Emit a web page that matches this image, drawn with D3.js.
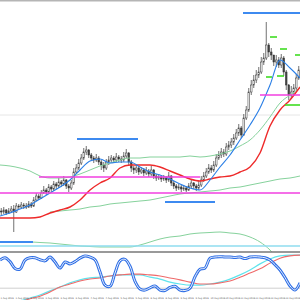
<!DOCTYPE html>
<html><head><meta charset="utf-8">
<script src="https://cdn.jsdelivr.net/npm/d3@7"></script>
<style>html,body{margin:0;padding:0;background:#fff;}svg{display:block;}</style>
</head><body>
<svg id="c" width="300" height="300"></svg>
<script>
// ---------- DATA ----------
const firstOpen = 1320.5;
const closes = [
1320,1321,1319.5,1320.5,1321.5,1320,1323,1322.5,1323.5,1323,
1322.5,1324,1323,1326,1328,1327,1329.5,1331,1330,1332.5,
1331.5,1334,1333,1335,1334,1336,1333,1332,1334.5,1340,
1342,1344.5,1347,1350,1351,1348.5,1347,1346,1347,1345,
1343.5,1342,1345,1346,1347,1346,1347.5,1346.5,1346,1348,
1349.5,1345,1342,1341,1342,1340,1341,1339.5,1340.5,1339,
1341,1338,1337,1337.5,1336.5,1337,1336,1338,1334.5,1333,
1332,1332.5,1331.5,1332,1331,1333,1334.5,1333,1332,1333.5,
1336,1338,1340,1342,1341,1343.5,1347,1348.5,1350,1349,
1352.5,1353.5,1355,1357,1359.5,1362,1358.5,1367,1371,1380,
1383.5,1386,1388.5,1390,1395,1397,1403.5,1400,1398.5,1395,
1396,1393.5,1397,1390,1383.5,1378.5,1380,1382,1387,1391];
const highs = [
1322,1322.5,1321.5,1322,1323,1323.5,1324.5,1324,1325,1324.5,
1324.5,1325.5,1325,1327.5,1329.5,1329,1331,1333,1332,1334,
1333.5,1335.5,1335,1337,1336,1338,1336.5,1334,1336,1342,
1344,1346.5,1349,1352,1353,1351.5,1349.5,1348,1349,1348,
1346,1345,1346.5,1348,1348.5,1348,1349.5,1348.5,1348,1350,
1351.5,1350,1346,1343,1343.5,1343,1342.5,1342,1342.5,1341.5,
1343,1341.5,1339,1339,1338.5,1338.5,1338,1340,1338.5,1335.5,
1334,1334,1333.5,1333.5,1333,1334.5,1336,1335,1334,1335.5,
1338,1340,1342,1344,1343.5,1345.5,1349,1350.5,1352,1351.5,
1354.5,1355.5,1357,1359,1361.5,1364,1363,1369,1373,1382,
1386,1388.5,1391,1392.5,1397.5,1399.5,1415,1404.5,1402,1398.5,
1398.5,1397.5,1399,1398,1391,1384,1383,1384,1389,1393];
const lows = [
1318.5,1319,1318.5,1319,1319.5,1310,1319.5,1321.5,1322,1321.5,
1321.5,1322,1322,1322.5,1325.5,1326,1326.5,1329,1328.5,1329,
1330,1330.5,1331.5,1332,1332.5,1333,1331.5,1330,1331,1333.5,
1339,1341,1343.5,1346,1348.5,1347,1345.5,1344.5,1345,1343.5,
1341,1340,1341,1343.5,1345,1344.5,1345,1345,1344.5,1345,
1347,1343,1340,1339,1339.5,1338.5,1339,1338,1338.5,1337.5,
1338,1336.5,1335.5,1336,1335,1335.5,1334.5,1335,1333,1331.5,
1330.5,1331,1330,1330.5,1330,1330.5,1332,1331.5,1330.5,1331,
1332.5,1335,1337,1339,1339.5,1340,1342.5,1346,1347,1347.5,
1348,1351,1352,1353.5,1356,1358,1357,1358,1366,1370,
1378.5,1382,1384.5,1387,1389,1393.5,1396,1397.5,1396,1393,
1392.5,1392,1392,1388,1381,1376,1376.5,1378,1381,1386];

// moving averages, read every 4 bars
const maBlue = [1318,1319.5,1321.5,1323.5,1326.5,1329.5,1332.5,1336,1341,1345.5,1346.5,1344.5,1345,1345,1342.5,1340,1338.5,1336.5,1334,1332,1331,1336,1342.5,1348.5,1356,1363.5,1372,1383.5,1396,1392,1387];
const maRed = [1317,1317,1317,1317,1317.5,1319.5,1321,1322.5,1326,1331,1334.5,1337,1342,1343.5,1343.5,1343.5,1342.5,1340.5,1338.5,1336.5,1335.5,1336.5,1337.5,1338,1340,1342.5,1349.5,1363,1371,1376,1382.5];
const maGreen = [1343.5,1343,1342,1340.5,1338,1337,1337,1337.5,1339,1341,1343,1344.5,1346,1347,1347,1347.5,1347.5,1347.5,1347.5,1348,1347.5,1348,1349,1350.5,1353,1356,1361,1367.5,1374.5,1378.5,1382];
const maGreenSlow = [null,null,null,null,null,1320,1320.5,1321,1321.5,1322.5,1323,1324,1324.5,1325,1325.5,1326,1327,1328,1329,1329.5,1330,1330.5,1331,1332,1332.5,1333.5,1334.5,1335.5,1336.5,1337,1338];
const maGreenLow = [1305,1305,1305,1305,1304.75,1304.5,1304,1303.5,1303,1302.75,1302.5,1302.5,1302.5,1302.5,1303.5,1305,1306.5,1307.5,1308,1309,1309.5,1309.75,1310,1309.5,1309,1307.5,1305,1301,1295,1290,1286];

// horizontal levels: price, from bar, to bar
const levelsBlue = [[1419.5,96.7,119.5],[1356.5,30.3,54.7],[1325,65.5,85.5],[1305,-0.5,12.7]];
const levelsMagenta = [[1329.5,-0.5,119.5],[1337.5,15.1,79.5],[1378.5,103.5,119.5]];
const levelsLime = [[1407.5,107.5,110.3],[1401.5,111.5,114.3],[1398.5,117.5,119.5],[1387.5,105.9,108.3],[1388,110.3,113.1],[1373.5,113.5,119.5]];
const levelCyan = [[1303,-0.5,119.5]];
const gridLevels = [1368.5];

// oscillator, main line every 2 bars, signal lines every 4 bars
const stochMain = [84,90,80,62,60,84,90,90,85,82,92,79,63,79,74,80,89,95,92,85,53,18,15,50,82,86,68,28,8,5,11,16,5,4,12,15,5,4,10,40,60,63,89,92,93,92,92,91,92,88,92,93,92,90,84,72,58,38,16,5,24];
const stochRed = [-42,-37,-26,-18,-11,0,13,21,29,34,37,42,45,47,47,45,42,37,32,26,21,21,24,29,39,50,61,76,89,95,97];
const stochCyan = [-39,-34,-24,-16,-8,3,13,24,32,37,39,42,45,45,45,39,34,26,21,18,18,21,26,34,45,58,74,87,95,97,97];
const stochLevel = 10;

const timeLabels = ["1 Aug 2016","1 Aug 2016","2 Aug 2016","2 Aug 2016","3 Aug 2016","3 Aug 2016","4 Aug 2016","4 Aug 2016","5 Aug 2016","5 Aug 2016","8 Aug 2016","8 Aug 2016","9 Aug 2016","9 Aug 2016","10 Aug 2016","10 Aug 2016","11 Aug 2016","11 Aug 2016","12 Aug 2016","12 Aug 2016"];

// ---------- DRAW ----------
const svg = d3.select("#c");
const W = 300;
const x = d3.scaleLinear().domain([-0.5,119.5]).range([0,W]);
const y = d3.scaleLinear().domain([1426,1300]).range([0,252]);
const ys = d3.scaleLinear().domain([0,100]).range([292,254]);

const maIdx = d3.range(-0.5,120,4);
const stIdx = d3.range(-0.5,120,2);

const defs = svg.append("defs");
defs.append("clipPath").attr("id","mainClip").append("rect").attr("x",0).attr("y",0).attr("width",W).attr("height",252);
defs.append("clipPath").attr("id","subClip").append("rect").attr("x",0).attr("y",252.5).attr("width",W).attr("height",47.5);

svg.append("rect").attr("width",W).attr("height",300).attr("fill","#ffffff");

const main = svg.append("g").attr("clip-path","url(#mainClip)");

main.selectAll(".grid").data(gridLevels).join("line")
  .attr("x1",0).attr("x2",W).attr("y1",d=>y(d)).attr("y2",d=>y(d))
  .attr("stroke","#e6e6e6").attr("stroke-width",1);

// candles
const bars = closes.map((c,i)=>({i, o: i===0?firstOpen:closes[i-1], c, h:highs[i], l:lows[i]}));
const cg = main.append("g");
cg.selectAll(".wick").data(bars).join("line")
  .attr("x1",d=>x(d.i)).attr("x2",d=>x(d.i))
  .attr("y1",d=>y(d.h)).attr("y2",d=>y(d.l))
  .attr("stroke","#333").attr("stroke-width",0.7);
cg.selectAll(".body").data(bars).join("rect")
  .attr("x",d=>x(d.i)-0.8).attr("width",1.6)
  .attr("y",d=>y(Math.max(d.o,d.c)))
  .attr("height",d=>Math.max(0.6,Math.abs(y(d.o)-y(d.c))))
  .attr("fill",d=>d.c>=d.o?"#ffffff":"#444")
  .attr("stroke","#333").attr("stroke-width",0.5);

// moving averages
const maLine = d3.line().defined(d=>d[1]!=null).x(d=>x(d[0])).y(d=>y(d[1])).curve(d3.curveMonotoneX);
function drawMA(vals,color,w){
  main.append("path").datum(maIdx.map((t,k)=>[t,vals[k]]))
    .attr("d",maLine).attr("fill","none").attr("stroke",color).attr("stroke-width",w);
}
drawMA(maGreenSlow,"#86d29c",1);
drawMA(maGreen,"#86d29c",1);
drawMA(maGreenLow,"#86d29c",1);
drawMA(maRed,"#ee2a2a",1.4);
drawMA(maBlue,"#2b7fe6",1.1);

function drawLevels(arr,color,w){
  main.append("g").selectAll("line").data(arr).join("line")
    .attr("x1",d=>x(d[1])).attr("x2",d=>x(d[2]))
    .attr("y1",d=>y(d[0])).attr("y2",d=>y(d[0]))
    .attr("stroke",color).attr("stroke-width",w);
}
drawLevels(levelCyan,"#8fdcef",1.5);
drawLevels(levelsMagenta,"#f23fe0",1.3);
drawLevels(levelsBlue,"#3d8af0",2);
drawLevels(levelsLime,"#3fdc22",1.6);

// top border
svg.append("line").attr("x1",0).attr("x2",W).attr("y1",0.8).attr("y2",0.8).attr("stroke","#b5b5b5").attr("stroke-width",1.6);

// sub panel
svg.append("line").attr("x1",0).attr("x2",W).attr("y1",252).attr("y2",252).attr("stroke","#777").attr("stroke-width",1.4);
const sub = svg.append("g").attr("clip-path","url(#subClip)");
sub.append("line").attr("x1",0).attr("x2",W).attr("y1",ys(stochLevel)).attr("y2",ys(stochLevel))
  .attr("stroke","#cfcfcf").attr("stroke-width",1);

const sigLine = d3.line().x(d=>x(d[0])).y(d=>ys(d[1])).curve(d3.curveMonotoneX);
sub.append("path").datum(maIdx.map((t,k)=>[t,stochCyan[k]])).attr("d",sigLine)
  .attr("fill","none").attr("stroke","#5fe3ec").attr("stroke-width",1.2);
sub.append("path").datum(maIdx.map((t,k)=>[t,stochRed[k]])).attr("d",sigLine)
  .attr("fill","none").attr("stroke","#ef6a6a").attr("stroke-width",1.1);

const stLine = d3.line().x(d=>x(d[0])).y(d=>ys(d[1])).curve(d3.curveCatmullRom.alpha(0.5));
const stData = stIdx.map((t,k)=>[t,stochMain[k]]);
sub.append("path").datum(stData).attr("d",stLine)
  .attr("fill","none").attr("stroke","#2f6fe6").attr("stroke-width",3);
sub.append("path").datum(stData).attr("d",stLine)
  .attr("fill","none").attr("stroke","#ffffff").attr("stroke-width",0.9);

// time labels
svg.append("g").selectAll("text").data(timeLabels).join("text")
  .attr("x",(d,k)=>x(k*6-0.5)+0.5).attr("y",298.5)
  .attr("font-family","DejaVu Sans, sans-serif").attr("font-size",2.3)
  .attr("fill","#555").text(d=>d);
</script>
</body></html>
